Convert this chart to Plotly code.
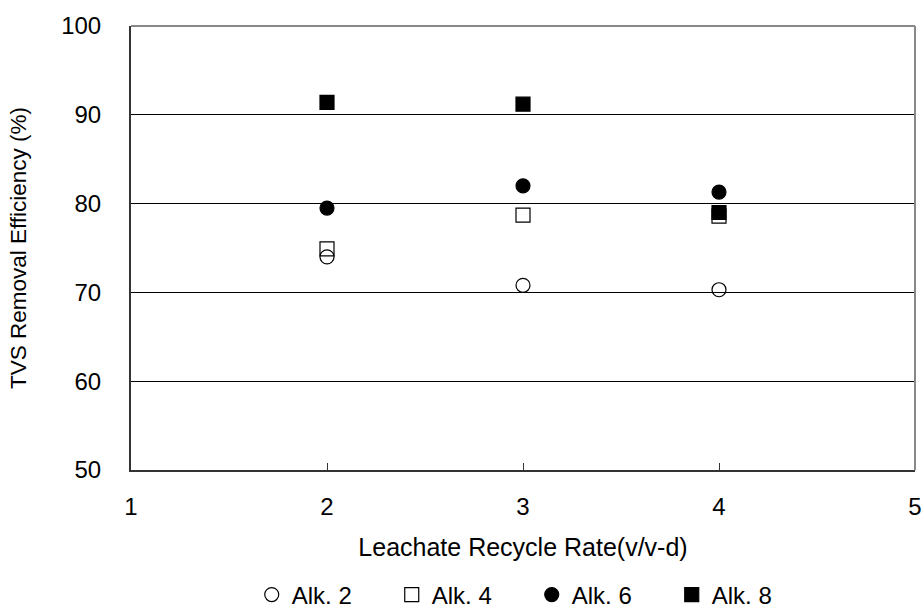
import plotly.graph_objects as go

rates = [2, 3, 4]
alk2 = [74.0, 70.8, 70.3]
alk4 = [74.9, 78.7, 78.6]
alk6 = [79.5, 82.0, 81.3]
alk8 = [91.4, 91.2, 79.0]

series = [
    ("Alk. 2", alk2, "circle-open"),
    ("Alk. 4", alk4, "square-open"),
    ("Alk. 6", alk6, "circle"),
    ("Alk. 8", alk8, "square"),
]

fig = go.Figure()
for name, vals, sym in series:
    fig.add_trace(go.Scatter(
        x=rates, y=vals, mode="markers", name=name,
        marker=dict(symbol=sym, size=14, color="black",
                    line=dict(color="black", width=1.2)),
    ))

font = "Liberation Sans, Arial, sans-serif"
fig.update_layout(
    width=924, height=608,
    margin=dict(l=131, r=9, t=26, b=138, autoexpand=False),
    plot_bgcolor="white", paper_bgcolor="white",
    font=dict(family=font, size=24, color="black"),
    showlegend=True,
    legend=dict(orientation="h", x=0.154, xanchor="left", y=-0.2815, yanchor="middle",
                font=dict(size=24), entrywidth=95, itemwidth=30,
                traceorder="normal"),
    xaxis=dict(range=[1, 5], tickvals=[1, 2, 3, 4, 5], ticks="inside", ticklen=7,
               tickcolor="#333", showgrid=False, zeroline=False, automargin=False,
               showline=True, linecolor="#333", linewidth=2,
               ticklabelstandoff=14,
               title=dict(text="Leachate Recycle Rate(v/v-d)", standoff=20, font=dict(size=25)),
               tickfont=dict(size=24)),
    yaxis=dict(range=[50, 100], tickvals=[50, 60, 70, 80, 90, 100], ticks="",
               showgrid=True, gridcolor="black", gridwidth=1, zeroline=False, automargin=False,
               showline=True, linecolor="#333", linewidth=2,
               ticklabelstandoff=23,
               title=dict(text="TVS Removal Efficiency (%)", standoff=28, font=dict(size=22.5)),
               tickfont=dict(size=24)),
    shapes=[
        dict(type="line", xref="paper", yref="paper", x0=0, x1=1, y0=1, y1=1,
             line=dict(color="#888", width=2)),
        dict(type="line", xref="paper", yref="paper", x0=1, x1=1, y0=0, y1=1,
             line=dict(color="#888", width=2)),
    ],
)

fig.write_html("out.html", config={"displayModeBar": False},
               post_script="document.body.style.margin='0';")
